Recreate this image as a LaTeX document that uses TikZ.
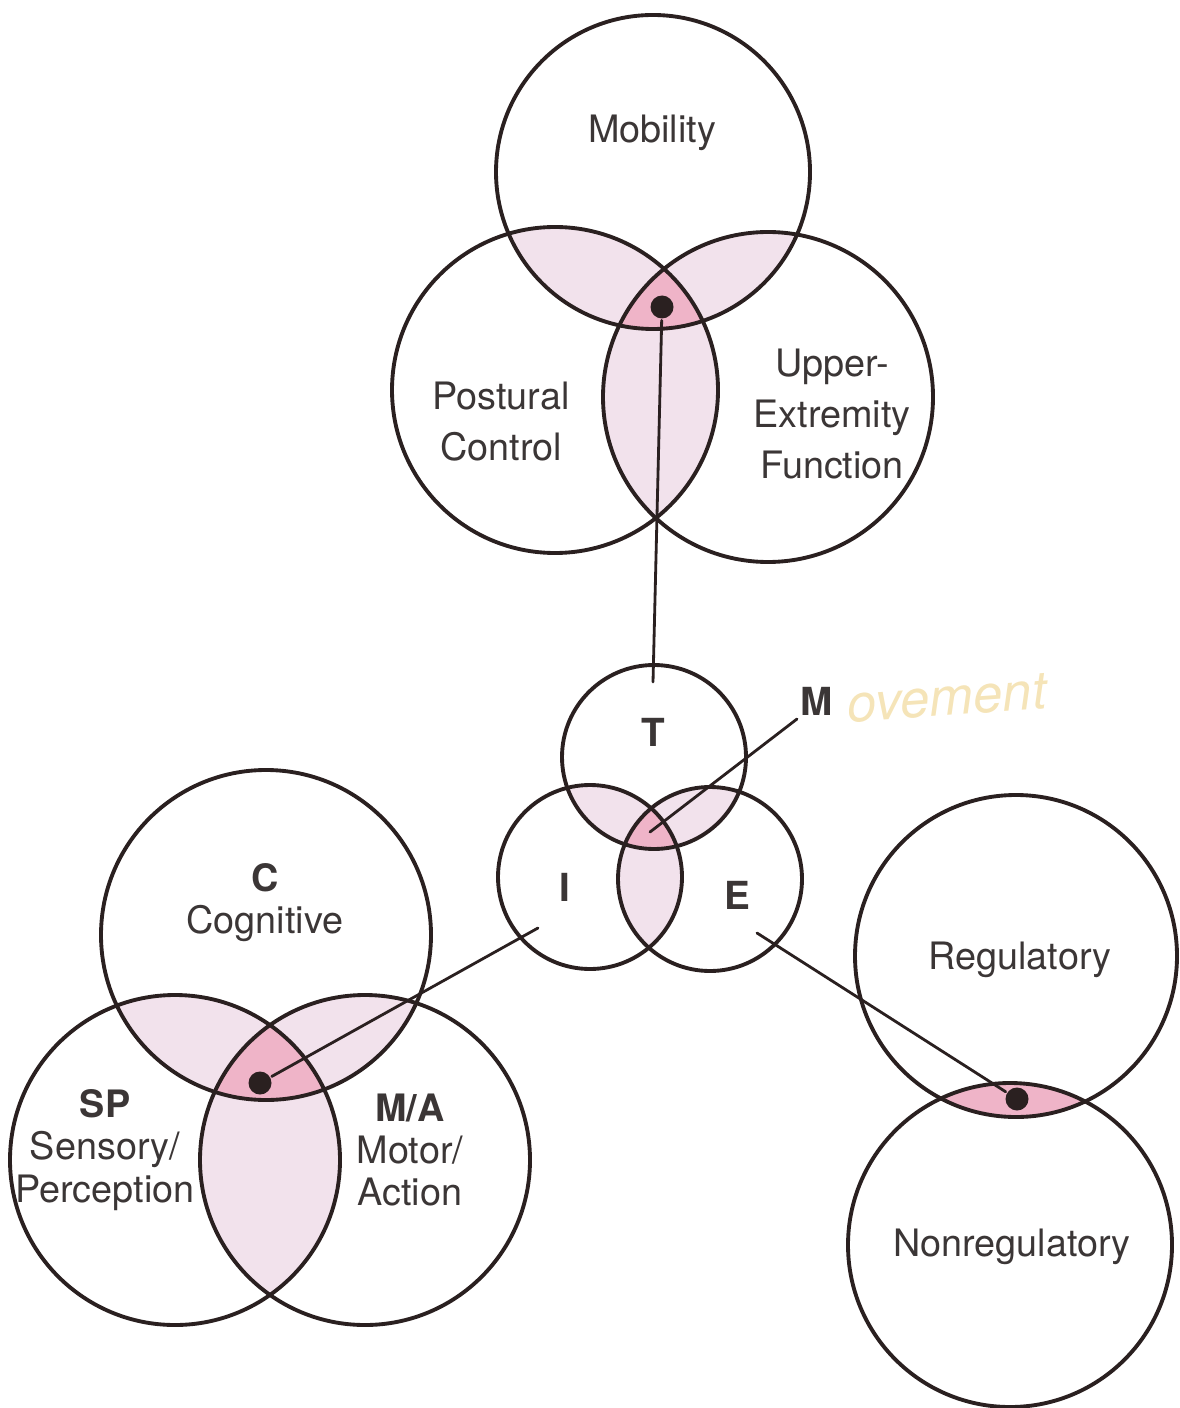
\documentclass[tikz,border=0pt]{standalone}
\usepackage{fontspec}
\setmainfont{TeX Gyre Heros}
\definecolor{figink}{HTML}{2A2020}
\definecolor{figtext}{HTML}{3B3636}
\definecolor{figpair}{HTML}{F2E2EC}
\definecolor{figcore}{HTML}{EFB4C8}
\definecolor{fignote}{HTML}{F5E4B8}

\begin{document}
\begin{tikzpicture}[x=0.02cm, y=-0.02cm, line width=2.2pt, line cap=round, line join=round,
    lab/.style={figtext, font=\fontsize{21.5}{29}\selectfont, align=center, inner sep=1pt},
    labtight/.style={lab, font=\fontsize{21.5}{24}\selectfont},
    keylab/.style={lab, font=\fontsize{22}{24}\selectfont\bfseries},
    blob/.style={circle, fill=figink, draw=none, inner sep=0pt, minimum size=0.46cm},
    conn/.style={figink, line width=1.6pt}]
  \useasboundingbox (0,0) rectangle (1179,1408);

  % 圆心（像素坐标，y 向下）
  \coordinate (Mo) at (653,172);
  \coordinate (Po) at (555,390);
  \coordinate (Up) at (768,397);
  \coordinate (T)  at (654,757);
  \coordinate (I)  at (590,877);
  \coordinate (E)  at (710,879);
  \coordinate (C)  at (266,935);
  \coordinate (SP) at (175,1160);
  \coordinate (MA) at (365,1160);
  \coordinate (Re) at (1016,956);
  \coordinate (No) at (1010,1245);

  % 两两相交：浅粉
  \foreach \ca/\ra/\cb/\rb in {Mo/157/Po/163, Mo/157/Up/165, Po/163/Up/165,
      T/92/I/92, T/92/E/92, I/92/E/92,
      C/165/SP/165, C/165/MA/165, SP/165/MA/165}{
    \begin{scope}
      \clip (\ca) circle (\ra);
      \fill[figpair] (\cb) circle (\rb);
    \end{scope}
  }
  % 三圆公共部分：深粉
  \foreach \ca/\ra/\cb/\rb/\cc/\rc in {Mo/157/Po/163/Up/165, T/92/I/92/E/92, C/165/SP/165/MA/165}{
    \begin{scope}
      \clip (\ca) circle (\ra);
      \clip (\cb) circle (\rb);
      \fill[figcore] (\cc) circle (\rc);
    \end{scope}
  }
  % 右侧两圆之交
  \begin{scope}
    \clip (Re) circle (161);
    \fill[figcore] (No) circle (162);
  \end{scope}

  % 圆周
  \foreach \cn/\rr in {Mo/157, Po/163, Up/165, T/92, I/92, E/92, C/165, SP/165, MA/165, Re/161, No/162}
    \draw[figink] (\cn) circle (\rr);

  % 文字
  \node[lab] (tMob) at (652,133) {Mobility};
  \node[lab] (tPos) at (501,422) {Postural\\Control};
  \node[lab] (tUpp) at (832,414) {Upper-\\Extremity\\Function};
  \node[keylab] (tT) at (653,732) {T};
  \node[keylab] (tI) at (565,887) {I};
  \node[keylab] (tE) at (737,895) {E};
  \node[keylab, anchor=south west] (tM) at (797,719) {M};
  \node[labtight] (tC)  at (265,903)  {\textbf{C}\\Cognitive};
  \node[labtight] (tSP) at (105,1150) {\textbf{SP}\\Sensory/\\Perception};
  \node[labtight] (tMA) at (410,1150) {\textbf{M/A}\\Motor/\\Action};
  \node[lab] (tReg) at (1020,960)  {Regulatory};
  \node[lab] (tNon) at (1012,1247) {Nonregulatory};
  % 手写批注
  \node[fignote, font=\fontsize{30}{30}\selectfont\itshape, rotate=4, anchor=west] (tNote) at (840,706) {ovement};

  % 交点与连线
  \node[blob] (dTop)   at (662,307)  {};
  \node[blob] (dLeft)  at (260,1083) {};
  \node[blob] (dRight) at (1017,1099) {};
  \coordinate (tEnd)  at (653,682);
  \coordinate (mCore) at (650,832);
  \coordinate (iEnd)  at (538,928);
  \coordinate (eEnd)  at (757,933);
  \draw[conn] (dTop) -- (tEnd);
  \draw[conn] (mCore) -- (tM.south west);
  \draw[conn] (iEnd) -- (dLeft);
  \draw[conn] (eEnd) -- (dRight);
\end{tikzpicture}
\end{document}
